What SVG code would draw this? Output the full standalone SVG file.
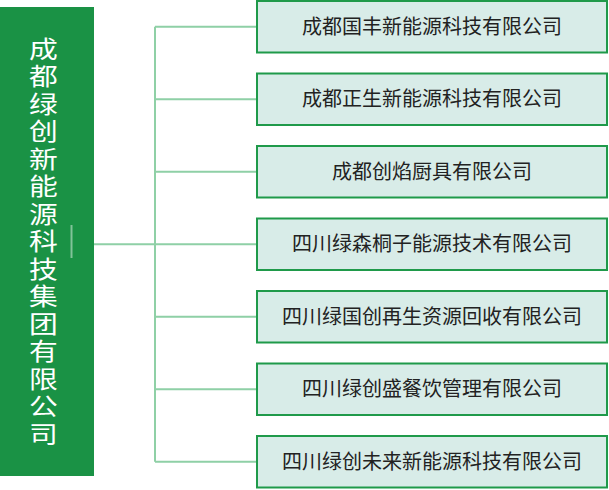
<svg xmlns="http://www.w3.org/2000/svg" width="609" height="490" viewBox="0 0 609 490">
<style>
.box{fill:#d8ece8;stroke:#1f9a4a;stroke-width:2}
.lbl{font-family:"Noto Sans CJK SC","Noto Sans",sans-serif;font-size:20px;fill:#222;text-anchor:middle}
.con{stroke:#8fd0a6;stroke-width:2;fill:none}
.main{font-family:"Liberation Sans","Noto Sans CJK SC",sans-serif;font-size:24px;fill:#fff;text-anchor:middle}
</style>
<rect width="609" height="490" fill="#fff"/>
<g id="root">
<rect x="0" y="7" width="94" height="469" fill="#1a9245"/>
<rect x="70.5" y="225" width="2" height="33" fill="#fff" opacity="0.45"/>
<g transform="translate(43.5,0) scale(1.2,1)">
<text class="main"><tspan x="0" y="58">成</tspan><tspan x="0" y="85.5">都</tspan><tspan x="0" y="113">绿</tspan><tspan x="0" y="140.5">创</tspan><tspan x="0" y="168">新</tspan><tspan x="0" y="195.5">能</tspan><tspan x="0" y="223">源</tspan><tspan x="0" y="250.5">科</tspan><tspan x="0" y="278">技</tspan><tspan x="0" y="305.5">集</tspan><tspan x="0" y="333">团</tspan><tspan x="0" y="360.5">有</tspan><tspan x="0" y="388">限</tspan><tspan x="0" y="415.5">公</tspan><tspan x="0" y="443">司</tspan></text>
</g>
</g>
<g id="connectors">
<path class="con" d="M94 244.25H256M155 26.75V461.75M155 26.75H256M155 99.25H256M155 171.75H256M155 316.75H256M155 389.25H256M155 461.75H256"/>
</g>
<g id="n1"><rect class="box" x="257" y="1" width="350" height="51.5"/><text class="lbl" x="432" y="33.5">成都国丰新能源科技有限公司</text></g>
<g id="n2"><rect class="box" x="257" y="73.5" width="350" height="51.5"/><text class="lbl" x="432" y="106">成都正生新能源科技有限公司</text></g>
<g id="n3"><rect class="box" x="257" y="146" width="350" height="51.5"/><text class="lbl" x="432" y="178.5">成都创焰厨具有限公司</text></g>
<g id="n4"><rect class="box" x="257" y="218.5" width="350" height="51.5"/><text class="lbl" x="432" y="251">四川绿森桐子能源技术有限公司</text></g>
<g id="n5"><rect class="box" x="257" y="291" width="350" height="51.5"/><text class="lbl" x="432" y="323.5">四川绿国创再生资源回收有限公司</text></g>
<g id="n6"><rect class="box" x="257" y="363.5" width="350" height="51.5"/><text class="lbl" x="432" y="396">四川绿创盛餐饮管理有限公司</text></g>
<g id="n7"><rect class="box" x="257" y="436" width="350" height="51.5"/><text class="lbl" x="432" y="468.5">四川绿创未来新能源科技有限公司</text></g>
</svg>
